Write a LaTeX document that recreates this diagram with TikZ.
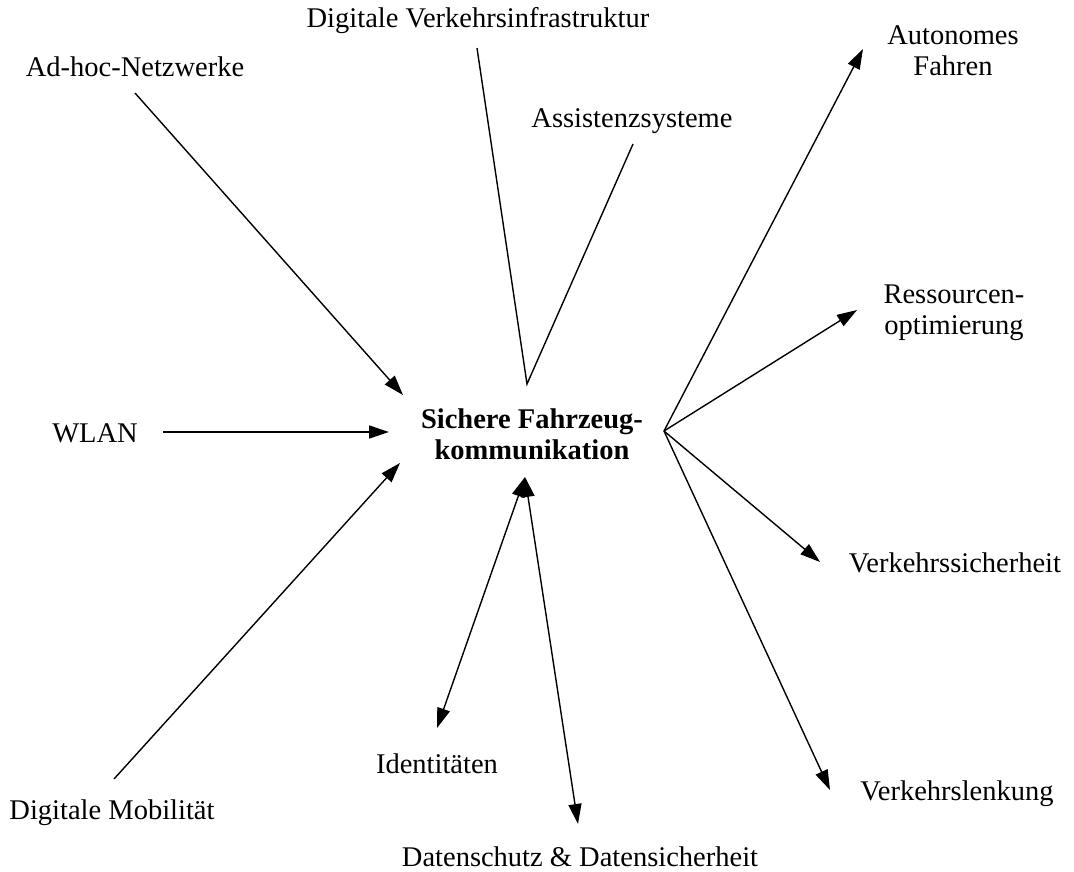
\documentclass[tikz,border=0pt]{standalone}
\usepackage{fontspec}
\setmainfont{Liberation Serif}
\usetikzlibrary{arrows.meta}
\begin{document}
\begin{tikzpicture}[x=1pt,y=-1pt,
  lbl/.style={inner sep=0pt,font=\fontsize{28.5}{31}\selectfont,align=center},
  conn/.style={line width=1.4pt},
  arr/.style={conn,-{Triangle[length=20pt,width=13pt]}},
  darr/.style={conn,{Triangle[length=20pt,width=13pt]}-{Triangle[length=20pt,width=13pt]}}]
\useasboundingbox (0,0) rectangle (1074,871);
% labels
\node[lbl,anchor=base] (dvi) at (478,27) {Digitale Verkehrsinfrastruktur};
\node[lbl,anchor=base] (adhoc) at (135,76) {Ad-hoc-Netzwerke};
\node[lbl,anchor=base] (assist) at (632,127) {Assistenzsysteme};
\node[lbl] (auto) at (953,51) {Autonomes\\Fahren};
\node[lbl] (ress) at (954,313) {Ressourcen-\\optimierung};
\node[lbl,anchor=base] (wlan) at (95,442) {WLAN};
\node[lbl,font=\fontsize{28.5}{31}\selectfont\bfseries] (center) at (532,434) {Sichere Fahrzeug-\\kommunikation};
\node[lbl,anchor=base] (vsich) at (955,572) {Verkehrssicherheit};
\node[lbl,anchor=base] (vlenk) at (957,800) {Verkehrslenkung};
\node[lbl,anchor=base] (dmob) at (112,819) {Digitale Mobilität};
\node[lbl,anchor=base] (ident) at (437,773) {Identitäten};
\node[lbl,anchor=base] (dschutz) at (580,866) {Datenschutz \& Datensicherheit};
% connector end points
\coordinate (dviS) at (477,48);
\coordinate (assistS) at (633,144);
\coordinate (topApex) at (527,384);
\coordinate (adhocS) at (135,93);
\coordinate (adhocE) at (403,395);
\coordinate (wlanS) at (163,432);
\coordinate (wlanE) at (389,432);
\coordinate (dmobS) at (114,779);
\coordinate (dmobE) at (400,463);
\coordinate (fan) at (664,431);
\coordinate (autoE) at (863,49);
\coordinate (ressE) at (857,310);
\coordinate (vsichE) at (820,562);
\coordinate (vlenkE) at (830,790);
\coordinate (botApex) at (525,477);
\coordinate (identE) at (437,728);
\coordinate (dschutzE) at (578,824);
% connectors
\draw[conn] (dviS) -- (topApex) -- (assistS);
\draw[arr] (adhocS) -- (adhocE);
\draw[arr] (wlanS) -- (wlanE);
\draw[arr] (dmobS) -- (dmobE);
\draw[arr] (fan) -- (autoE);
\draw[arr] (fan) -- (ressE);
\draw[arr] (fan) -- (vsichE);
\draw[arr] (fan) -- (vlenkE);
\draw[darr] (botApex) -- (identE);
\draw[darr] (botApex) -- (dschutzE);
\end{tikzpicture}
\end{document}
